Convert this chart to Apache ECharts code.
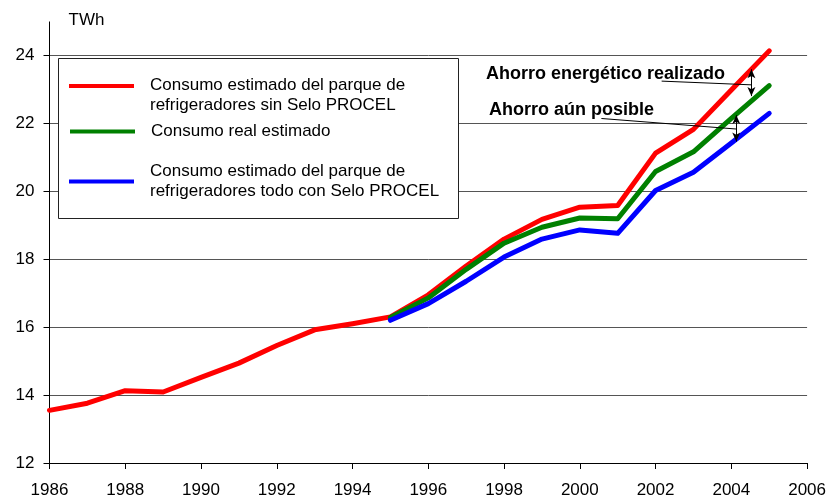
<!DOCTYPE html>
<html>
<head>
<meta charset="utf-8">
<script src="https://cdn.jsdelivr.net/npm/echarts@6/dist/echarts.min.js"></script>
<style>
  html, body { margin: 0; padding: 0; background: #fff; }
  #chart { width: 829px; height: 499px; }
</style>
</head>
<body>
<div id="chart"></div>
<script>
// Years covered by each series
const yearsAll = [1986, 1987, 1988, 1989, 1990, 1991, 1992, 1993, 1994, 1995,
                  1996, 1997, 1998, 1999, 2000, 2001, 2002, 2003, 2004, 2005];
const yearsProcel = [1995, 1996, 1997, 1998, 1999, 2000, 2001, 2002, 2003, 2004, 2005];

// Consumption, TWh
const sinSelo = [13.55, 13.76, 14.13, 14.09, 14.52, 14.94, 15.46, 15.92, 16.10, 16.30,
                 16.95, 17.80, 18.59, 19.17, 19.53, 19.58, 21.12, 21.82, 22.98, 24.13];
const realEstimado = [16.28, 16.86, 17.70, 18.47, 18.94, 19.21, 19.19, 20.58, 21.16, 22.14, 23.11];
const todoSelo = [16.20, 16.69, 17.35, 18.06, 18.59, 18.86, 18.76, 20.02, 20.56, 21.42, 22.29];

// Axis ticks
const xTicks = { min: 1986, max: 2006, step: 2 };
const yTicks = { min: 12, max: 24, step: 2 };

// Legend labels
const names = [
  'Consumo estimado del parque de\nrefrigeradores sin Selo PROCEL',
  'Consumo real estimado',
  'Consumo estimado del parque de\nrefrigeradores todo con Selo PROCEL'
];
const colors = ['#ff0000', '#008000', '#0000ff'];

// Annotation anchors in data units: double arrows and leader lines
const arrowRealizado = [[2004.53, 23.59], [2004.53, 22.80]];
const arrowPosible = [[2004.13, 22.24], [2004.13, 21.46]];
const leaderRealizado = [[2002.16, 23.24], [2004.53, 23.13]];
const leaderPosible = [[2000.57, 22.14], [2004.13, 21.83]];

const FONT = '"Liberation Sans", Arial, sans-serif';

const pairs = (xs, ys) => xs.map((x, i) => [x, ys[i]]);
const seg = (p, withArrows) => ([
  { coord: p[0], symbol: withArrows ? 'arrow' : 'none', symbolSize: withArrows ? [6, 9] : 0 },
  { coord: p[1], symbol: withArrows ? 'arrow' : 'none', symbolSize: withArrows ? [6, 9] : 0 }
]);

const chart = echarts.init(document.getElementById('chart'), null, { renderer: 'canvas' });

const lineSeries = (name, data, color, extra) => Object.assign({
  name: name,
  type: 'line',
  data: data,
  clip: false,
  showSymbol: false,
  symbol: 'none',
  lineStyle: { color: color, width: 5, cap: 'round', join: 'round' },
  itemStyle: { color: color },
  silent: true,
  animation: false
}, extra || {});

// One legend block per series; a spacer line pushes the text below the swatch when needed
const legendBox = (top, left, name, spacer) => ({
  top: top,
  left: left,
  padding: 0,
  orient: 'vertical',
  selectedMode: false,
  icon: 'rect',
  itemWidth: 65,
  itemHeight: 4,
  data: [name],
  formatter: n => (spacer ? '{p| }\n' : '') + n.split('\n').map(s => '{t|' + s + '}').join('\n'),
  textStyle: {
    fontFamily: FONT,
    fontSize: 17,
    color: '#000',
    padding: [0, 0, 0, 11],
    rich: {
      p: { fontSize: 10, lineHeight: spacer || 1, fontFamily: FONT },
      t: { fontFamily: FONT, fontSize: 17, lineHeight: 20, color: '#000' }
    }
  },
  z: 5
});

chart.setOption({
  animation: false,
  backgroundColor: '#fff',
  grid: { left: 49.5, right: 21.7, top: 55.3, bottom: 35.7, containLabel: false },
  xAxis: {
    type: 'value',
    min: xTicks.min,
    max: xTicks.max,
    interval: xTicks.step,
    axisLine: { show: true, lineStyle: { color: '#000', width: 1 } },
    axisTick: { show: true, inside: false, length: 6, lineStyle: { color: '#000' } },
    axisLabel: { fontFamily: FONT, fontSize: 17, color: '#000', margin: 19, formatter: v => String(v) },
    splitLine: { show: false }
  },
  yAxis: {
    type: 'value',
    min: yTicks.min,
    max: yTicks.max,
    interval: yTicks.step,
    name: 'TWh',
    nameLocation: 'end',
    nameGap: 26,
    nameTextStyle: { fontFamily: FONT, fontSize: 17, color: '#000', align: 'left', padding: [0, 0, 0, 19] },
    axisLine: { show: true, lineStyle: { color: '#000', width: 1 } },
    axisTick: { show: true, inside: false, length: 6, lineStyle: { color: '#000' } },
    axisLabel: { fontFamily: FONT, fontSize: 17, color: '#000', margin: 15 },
    splitLine: { show: true, lineStyle: { color: '#555', width: 1 } }
  },
  legend: [
    legendBox(61, 69, names[0], 18),
    legendBox(123, 70, names[1], 0),
    legendBox(163, 69, names[2], 0)
  ],
  graphic: [
    // axis line continuing above the top gridline
    { type: 'line', shape: { x1: 49.5, y1: 21.5, x2: 49.5, y2: 56 }, style: { stroke: '#000', lineWidth: 1 }, z: 3, silent: true },
    // legend frame
    { type: 'rect', shape: { x: 58.5, y: 58.5, width: 400, height: 160 }, style: { fill: '#fff', stroke: '#222', lineWidth: 1 }, z: 3, silent: true },
    { type: 'text', left: 486, top: 65, style: { text: 'Ahorro energético realizado', font: 'bold 18px ' + FONT, fill: '#000' }, z: 6, silent: true },
    { type: 'text', left: 489, top: 101, style: { text: 'Ahorro aún posible', font: 'bold 18px ' + FONT, fill: '#000' }, z: 6, silent: true }
  ],
  series: [
    lineSeries(names[0], pairs(yearsAll, sinSelo), colors[0]),
    lineSeries(names[1], pairs(yearsProcel, realEstimado), colors[1], {
      markLine: {
        silent: true,
        animation: false,
        label: { show: false },
        lineStyle: { color: '#000', width: 1, type: 'solid' },
        emphasis: { disabled: true },
        data: [
          seg(arrowRealizado, true),
          seg(arrowPosible, true),
          seg(leaderRealizado, false),
          seg(leaderPosible, false)
        ],
        z: 10
      }
    }),
    lineSeries(names[2], pairs(yearsProcel, todoSelo), colors[2])
  ]
});
</script>
</body>
</html>
